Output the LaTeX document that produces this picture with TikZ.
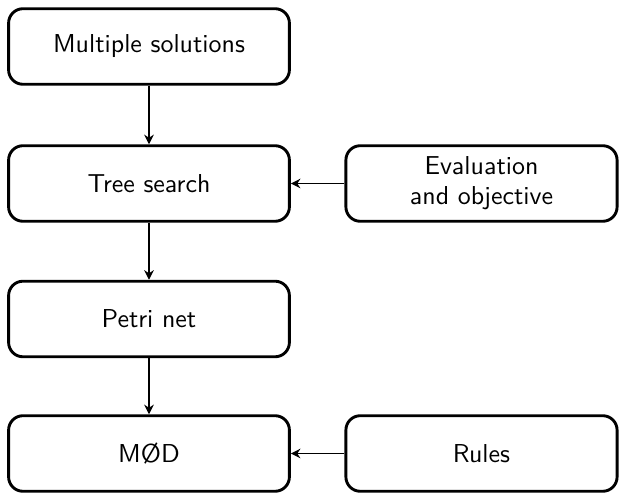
\documentclass[tikz,border=0pt]{standalone}
\usetikzlibrary{arrows.meta}
\renewcommand{\familydefault}{\sfdefault}
\begin{document}
\begin{tikzpicture}[x=0.41667pt,y=-0.41667pt,
  box/.style={draw,line width=1.2pt,rounded corners=6pt,align=center,inner sep=0pt,font=\sffamily\fontsize{10.8}{12.4}\selectfont},
  lbox/.style={box,minimum width=117pt,minimum height=31.5pt},
  rbox/.style={box,minimum width=113pt,minimum height=31.5pt},
  conn/.style={line width=0.8pt,-{Stealth[length=4pt,width=4pt,inset=1.3pt]}}]
\useasboundingbox (0,0) rectangle (621,493);
\node[lbox] (ms) at (149,46.5) {Multiple solutions};
\node[lbox] (ts) at (149,183.5) {Tree search};
\node[lbox] (pn) at (149,319) {Petri net};
\node[lbox] (mod) at (149,453.5) {MØD};
\node[rbox] (eo) at (481.5,183.5) {Evaluation\\and objective};
\node[rbox] (ru) at (481.5,453.5) {Rules};
\draw[conn] (ms) -- (ts);
\draw[conn] (ts) -- (pn);
\draw[conn] (pn) -- (mod);
\draw[conn] (eo) -- (ts);
\draw[conn] (ru) -- (mod);
\end{tikzpicture}
\end{document}
